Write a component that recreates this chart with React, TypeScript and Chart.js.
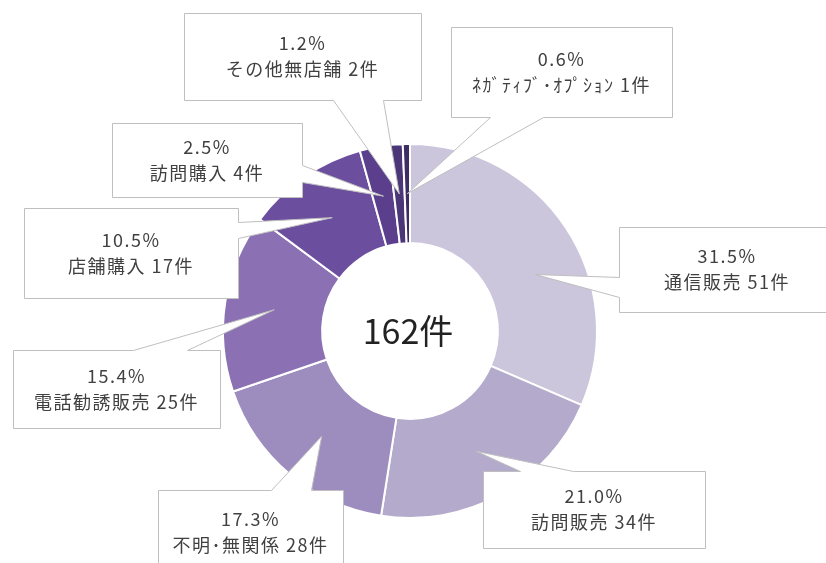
import React, { useEffect, useRef } from "react";
import { Chart, registerables } from "chart.js";

Chart.register(...registerables);

// ---- data ----
const categories = [
  "通信販売",
  "訪問販売",
  "不明･無関係",
  "電話勧誘販売",
  "店舗購入",
  "訪問購入",
  "その他無店舗",
  "ﾈｶﾞﾃｨﾌﾞ･ｵﾌﾟｼｮﾝ",
];
const counts = [51, 34, 28, 25, 17, 4, 2, 1];
const percentLabels = ["31.5%", "21.0%", "17.3%", "15.4%", "10.5%", "2.5%", "1.2%", "0.6%"];
const totalLabel = "162件";

// ---- styles ----
const sliceColors = [
  "#ccc6dc",
  "#b4aacb",
  "#9d8dbf",
  "#8b71b3",
  "#6c4e9f",
  "#5b3e8c",
  "#4b3677",
  "#3e2c64",
];

// callout layout: box [left, top, right, bottom], side of the pointer base, base range along that side,
// fraction of the slice angle where the pointer tip sits
type Side = "top" | "right" | "bottom" | "left";
const calloutLayout: { box: number[]; side: Side; base: number[]; tipFrac: number }[] = [
  { box: [619, 227, 835, 312], side: "left", base: [277, 297], tipFrac: 0.58 },
  { box: [483, 471, 705, 548], side: "top", base: [520, 573], tipFrac: 0.5 },
  { box: [158, 490, 343, 600], side: "top", base: [271, 311], tipFrac: 0.5 },
  { box: [13, 350, 220, 428], side: "top", base: [133, 187], tipFrac: 0.5 },
  { box: [24, 208, 238, 298], side: "right", base: [222, 238], tipFrac: 0.5 },
  { box: [112, 123, 302, 197], side: "right", base: [165, 182], tipFrac: 0.5 },
  { box: [184, 13, 421, 100], side: "bottom", base: [333, 383], tipFrac: 0.5 },
  { box: [451, 27, 672, 117], side: "bottom", base: [490, 543], tipFrac: 0.5 },
];

const LABEL_FONT = '18px "Noto Sans CJK JP", "Noto Sans", sans-serif';
const CENTER_FONT = '34px "Noto Sans CJK JP", "Noto Sans", sans-serif';

const calloutPlugin = {
  id: "callouts",
  afterDraw(chart: any) {
    const ctx: any = chart.ctx;
    const meta = chart.getDatasetMeta(0);
    const { left, right, top, bottom } = chart.chartArea;
    const cx = (left + right) / 2;
    const cy = (top + bottom) / 2;
    ctx.save();
    ctx.font = CENTER_FONT;
    ctx.fillStyle = "#222222";
    ctx.textAlign = "center";
    ctx.textBaseline = "middle";
    ctx.fillText(totalLabel, cx - 2, cy);

    meta.data.forEach((arc: any, i: number) => {
      const L = calloutLayout[i];
      if (!L) return;
      const p = arc.getProps(["x", "y", "startAngle", "endAngle", "innerRadius", "outerRadius"], true);
      const ang = p.startAngle + (p.endAngle - p.startAngle) * L.tipFrac;
      const r = (p.innerRadius + p.outerRadius) / 2;
      const tx = p.x + Math.cos(ang) * r;
      const ty = p.y + Math.sin(ang) * r;
      const [bl0, bt0, br0, bb0] = L.box;
      const bl = bl0 + 0.5, bt = bt0 + 0.5, br = br0 + 0.5, bb = bb0 + 0.5;
      const b0 = L.base[0] + 0.5, b1 = L.base[1] + 0.5;
      ctx.beginPath();
      ctx.moveTo(bl, bt);
      if (L.side === "top") {
        ctx.lineTo(b0, bt);
        ctx.lineTo(tx, ty);
        ctx.lineTo(b1, bt);
      }
      ctx.lineTo(br, bt);
      if (L.side === "right") {
        ctx.lineTo(br, b0);
        ctx.lineTo(tx, ty);
        ctx.lineTo(br, b1);
      }
      ctx.lineTo(br, bb);
      if (L.side === "bottom") {
        ctx.lineTo(b1, bb);
        ctx.lineTo(tx, ty);
        ctx.lineTo(b0, bb);
      }
      ctx.lineTo(bl, bb);
      if (L.side === "left") {
        ctx.lineTo(bl, b1);
        ctx.lineTo(tx, ty);
        ctx.lineTo(bl, b0);
      }
      ctx.closePath();
      ctx.fillStyle = "#ffffff";
      ctx.fill();
      ctx.strokeStyle = "#bfbfbf";
      ctx.lineWidth = 1;
      ctx.stroke();

      const midX = (bl0 + Math.min(br0, 826 + 9)) / 2;
      const midY = (bt0 + Math.min(bb0, 575)) / 2;
      ctx.font = LABEL_FONT;
      ctx.letterSpacing = "1.5px";
      ctx.fillStyle = "#404040";
      ctx.textAlign = "center";
      ctx.textBaseline = "middle";
      ctx.fillText(percentLabels[i], midX, midY - 13);
      ctx.fillText(`${categories[i]} ${counts[i]}件`, midX, midY + 13);
      ctx.letterSpacing = "0px";
    });
    ctx.restore();
  },
};

export default function App() {
  const canvasRef = useRef<HTMLCanvasElement | null>(null);

  useEffect(() => {
    if (!canvasRef.current) return;
    const chart = new Chart(canvasRef.current, {
      type: "doughnut",
      data: {
        labels: categories,
        datasets: [
          {
            data: counts,
            backgroundColor: sliceColors,
            borderColor: "#ffffff",
            borderWidth: 2,
          },
        ],
      },
      options: {
        responsive: false,
        animation: false,
        radius: 187,
        cutout: "47%",
        layout: { padding: { left: 223, right: 229, top: 144, bottom: 45 } },
        plugins: {
          legend: { display: false },
          tooltip: { enabled: false },
        },
      } as any,
      plugins: [calloutPlugin],
    });
    return () => chart.destroy();
  }, []);

  return (
    <div style={{ position: "absolute", left: 0, top: 0, width: 826, height: 563, background: "#ffffff" }}>
      <canvas ref={canvasRef} width={826} height={563} />
    </div>
  );
}
